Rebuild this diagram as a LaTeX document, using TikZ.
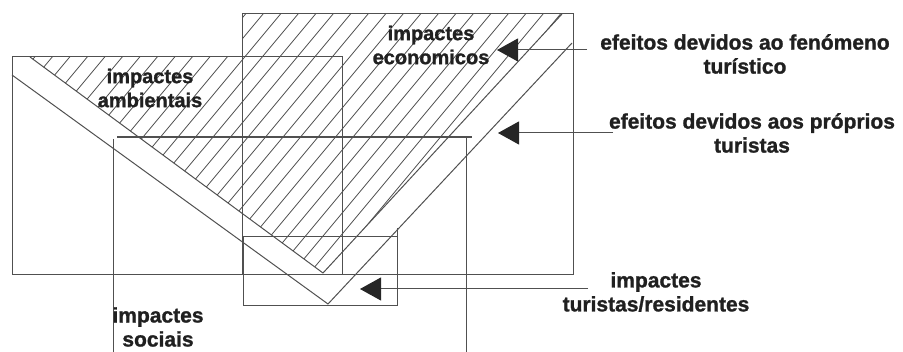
\documentclass[tikz,border=0pt]{standalone}
\usepackage{fontspec}
\setmainfont{Liberation Sans}
\newfontfamily\lblfont{Liberation Sans Bold}[FakeBold=1.2]
\usetikzlibrary{arrows.meta}
\definecolor{ln}{HTML}{505050}
\definecolor{tx}{HTML}{202020}
\begin{document}
\begin{tikzpicture}[x=1pt,y=-1pt,
  frame/.style={draw=ln, line width=1pt},
  thickframe/.style={draw=ln, line width=1.6pt},
  hatchln/.style={draw=ln, line width=0.8pt},
  lbl/.style={text=tx, font=\lblfont\fontsize{21}{24}\selectfont, align=center, inner sep=0pt},
  lblin/.style={text=tx, font=\lblfont\fontsize{20}{24}\selectfont, align=center, inner sep=0pt},
  arr/.style={draw=ln, line width=1pt, -{Triangle[length=21pt,width=23pt,color=black!85]}}
]
\useasboundingbox (0,0) rectangle (903,352);

% hatching of the combined area
\begin{scope}
  \clip (30,57) -- (242,57) -- (242,14) -- (562,14) -- (323,273) -- cycle;
  \foreach \i in {-16,...,22} {
    \draw[hatchln] ({7.2+\i*17.5},300) -- ++({300/1.2},-300);
  }
\end{scope}

% impactes ambientais (rectangle A)
\draw[frame] (12,57) rectangle (342,275);
% impactes economicos (rectangle B)
\draw[frame] (242,14) rectangle (573,275);
% impactes sociais (open rectangle C)
\draw[thickframe] (117,137) -- (472,137);
\draw[frame] (113,139) -- (113,352);
\draw[frame] (466,137) -- (466,352);
% impactes turistas/residentes (rectangle D)
\draw[frame] (243,237) rectangle (397,306);
\draw[frame] (397,237) -- (397,228);

% diagonal band
\draw[frame] (30,57) -- (323,273) -- (562,14);
\draw[frame] (12,75) -- (328,304) -- (572,43);

% labels
\node[lblin] (amb) at (150,88) {impactes\\ambientais};
\node[lblin] (eco) at (431,45) {impactes\\economicos};
\node[lbl] (fen) at (745,54) {efeitos devidos ao fenómeno\\turístico};
\node[lbl] (pro) at (752,133) {efeitos devidos aos próprios\\turistas};
\node[lbl] (tur) at (656,292) {impactes\\turistas/residentes};
\node[lbl] (soc) at (158,327) {impactes\\sociais};

% arrows
\coordinate (t1) at (587,50);  \coordinate (h1) at (497,50);
\coordinate (t2) at (613,133); \coordinate (h2) at (498,133);
\coordinate (t3) at (588,289); \coordinate (h3) at (360,289);
\draw[arr] (t1) -- (h1);
\draw[arr] (t2) -- (h2);
\draw[arr] (t3) -- (h3);
\end{tikzpicture}
\end{document}
